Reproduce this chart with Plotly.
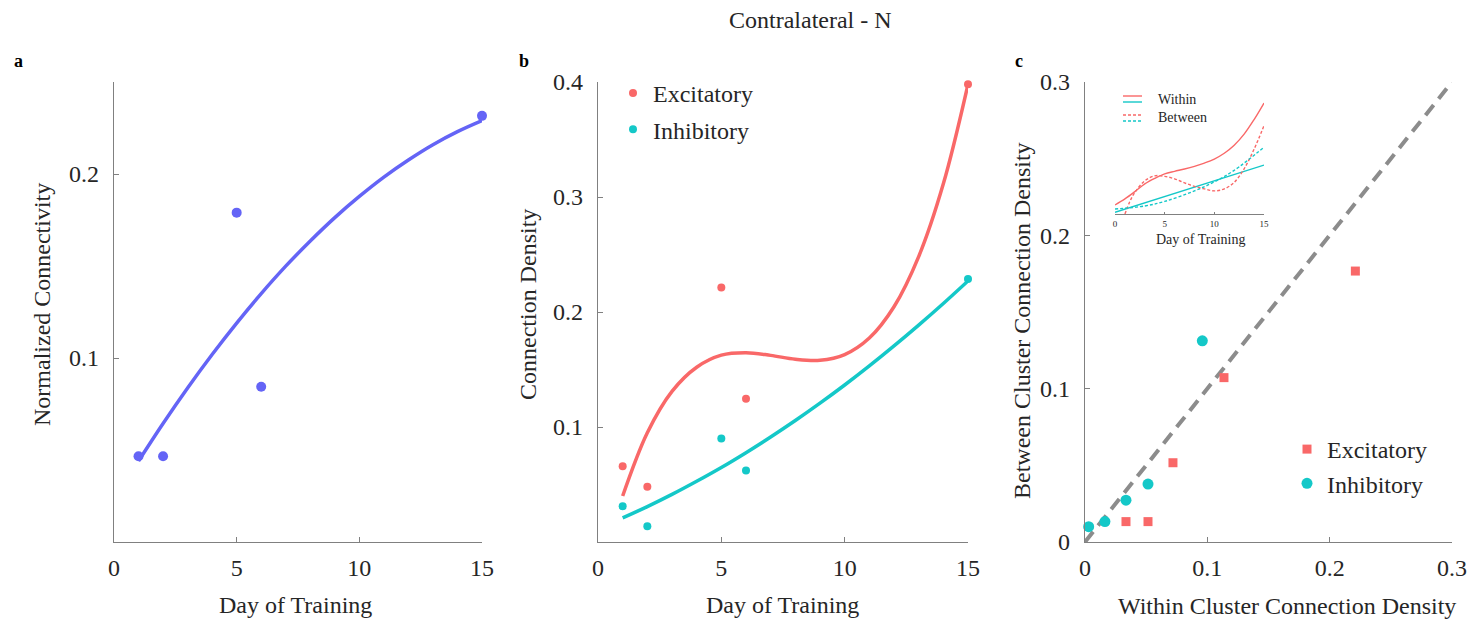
import plotly.graph_objects as go

# ---------------- data ----------------
# a: normalized connectivity by training day, with its fitted trend
days = [1, 2, 5, 6, 15]
norm_conn = [0.0466, 0.0466, 0.179, 0.0844, 0.2316]
fit_days = [1, 2, 3, 4, 5, 6, 7, 8, 9, 10, 11, 12, 13, 14, 15]
norm_conn_fit = [0.044, 0.0644, 0.0837, 0.1019, 0.119, 0.135, 0.1499, 0.1636,
                 0.1763, 0.1878, 0.1983, 0.2076, 0.2159, 0.2230, 0.229]

# b: connection density for excitatory / inhibitory neurons
exc_density = [0.0658, 0.0481, 0.2214, 0.1245, 0.398]
inh_density = [0.031, 0.0137, 0.090, 0.0621, 0.2286]
exc_fit = [0.040, 0.095, 0.131, 0.152, 0.1625, 0.1646, 0.1623, 0.1589,
           0.158, 0.163, 0.1774, 0.2046, 0.2482, 0.3115, 0.398]
inh_fit = [0.021, 0.0308, 0.0414, 0.0528, 0.0648, 0.0777, 0.0913, 0.1056,
           0.1207, 0.1365, 0.1531, 0.1705, 0.1886, 0.2074, 0.227]

# c: within vs between cluster density
exc_within = [0.0335, 0.0515, 0.0719, 0.1136, 0.221]
exc_between = [0.0133, 0.0133, 0.0517, 0.1072, 0.1767]
inh_within = [0.003, 0.0163, 0.0335, 0.0515, 0.0959]
inh_between = [0.010, 0.0133, 0.0273, 0.0378, 0.1312]
identity = [0, 0.3]

# c inset: fitted trends over training days
inset_days = [0, 1, 2, 3, 4, 5, 6, 7, 8, 9, 10, 11, 12, 13, 14, 15]
exc_within_fit = [0.018, 0.030, 0.0445, 0.060, 0.071, 0.080, 0.085, 0.0896,
                  0.095, 0.1015, 0.1095, 0.121, 0.137, 0.159, 0.188, 0.221]
exc_between_days = [1, 1.5, 2, 3, 4, 5, 6, 7, 8, 9, 10, 11, 12, 13, 14, 15]
exc_between_fit = [0.0, 0.025, 0.043, 0.066, 0.076, 0.075, 0.070, 0.062,
                   0.055, 0.050, 0.046, 0.050, 0.063, 0.090, 0.129, 0.176]
inh_within_days = [0, 5, 10, 15]
inh_within_fit = [0.0033, 0.0347, 0.0661, 0.0975]
inh_between_days = [0, 3, 5, 8, 10, 12, 15]
inh_between_fit = [0.010, 0.016, 0.025, 0.046, 0.064, 0.087, 0.133]

# ---------------- style ----------------
W, H = 1469, 621
FONT = "Liberation Serif"
TXT = "#262626"
AX = "#808080"
BLUE = "#6464F6"
RED = "#F96868"
CYAN = "#14C8C8"


def fx(p):
    return p / W


def fy(p):
    return 1 - p / H


fig = go.Figure()

# a
fig.add_trace(go.Scatter(x=fit_days, y=norm_conn_fit, mode="lines", line=dict(color=BLUE, width=3.5, shape="spline"),
                         showlegend=False, xaxis="x", yaxis="y"))
fig.add_trace(go.Scatter(x=days, y=norm_conn, mode="markers", marker=dict(color=BLUE, size=10),
                         showlegend=False, cliponaxis=False, xaxis="x", yaxis="y"))

# b
fig.add_trace(go.Scatter(x=fit_days, y=exc_fit, mode="lines", line=dict(color=RED, width=3.5, shape="spline"),
                         showlegend=False, xaxis="x2", yaxis="y2"))
fig.add_trace(go.Scatter(x=fit_days, y=inh_fit, mode="lines", line=dict(color=CYAN, width=3.5, shape="spline"),
                         showlegend=False, xaxis="x2", yaxis="y2"))
fig.add_trace(go.Scatter(x=days, y=exc_density, mode="markers", name="Excitatory", legend="legend",
                         legendgroup="be", marker=dict(color=RED, size=8), cliponaxis=False,
                         xaxis="x2", yaxis="y2"))
fig.add_trace(go.Scatter(x=days, y=inh_density, mode="markers", name="Inhibitory", legend="legend",
                         legendgroup="bi", marker=dict(color=CYAN, size=8), cliponaxis=False,
                         xaxis="x2", yaxis="y2"))

# c
fig.add_trace(go.Scatter(x=identity, y=identity, mode="lines", line=dict(color="#8c8c8c", width=4, dash="13px,8px"),
                         showlegend=False, xaxis="x3", yaxis="y3"))
fig.add_trace(go.Scatter(x=exc_within, y=exc_between, mode="markers", name="Excitatory", legend="legend2",
                         marker=dict(color=RED, size=9, symbol="square"), cliponaxis=False,
                         xaxis="x3", yaxis="y3"))
fig.add_trace(go.Scatter(x=inh_within, y=inh_between, mode="markers", name="Inhibitory", legend="legend2",
                         marker=dict(color=CYAN, size=11), cliponaxis=False,
                         xaxis="x3", yaxis="y3"))

# c inset
fig.add_trace(go.Scatter(x=inset_days, y=exc_within_fit, mode="lines", line=dict(color=RED, width=1.4, shape="spline"),
                         showlegend=False, xaxis="x4", yaxis="y4"))
fig.add_trace(go.Scatter(x=inh_within_days, y=inh_within_fit, mode="lines", line=dict(color=CYAN, width=1.4),
                         showlegend=False, xaxis="x4", yaxis="y4"))
fig.add_trace(go.Scatter(x=exc_between_days, y=exc_between_fit, mode="lines",
                         line=dict(color=RED, width=1.4, dash="3px,2px", shape="spline"),
                         showlegend=False, xaxis="x4", yaxis="y4"))
fig.add_trace(go.Scatter(x=inh_between_days, y=inh_between_fit, mode="lines",
                         line=dict(color=CYAN, width=1.4, dash="3px,2px", shape="spline"),
                         showlegend=False, xaxis="x4", yaxis="y4"))

axis_common = dict(showline=True, linecolor=AX, linewidth=1.3, ticks="inside", ticklen=5, tickcolor=AX,
                   tickwidth=1, showgrid=False, zeroline=False, automargin=False,
                   tickfont=dict(family=FONT, size=24, color=TXT))
ydom = [fy(542), fy(82)]

fig.update_layout(
    width=W, height=H, margin=dict(l=0, r=0, t=0, b=0, autoexpand=False),
    paper_bgcolor="white", plot_bgcolor="white",
    font=dict(family=FONT, color=TXT),
    xaxis=dict(domain=[fx(114), fx(482)], range=[0, 15], tickvals=[0, 5, 10, 15],
               ticklabelstandoff=4, anchor="y", **axis_common),
    yaxis=dict(domain=ydom, range=[0, 0.25], tickvals=[0.1, 0.2], ticktext=["0.1", "0.2"],
               ticklabelstandoff=9, anchor="x", **axis_common),
    xaxis2=dict(domain=[fx(598), fx(968)], range=[0, 15], tickvals=[0, 5, 10, 15],
                ticklabelstandoff=4, anchor="y2", **axis_common),
    yaxis2=dict(domain=ydom, range=[0, 0.4], tickvals=[0.1, 0.2, 0.3, 0.4],
                ticktext=["0.1", "0.2", "0.3", "0.4"], ticklabelstandoff=9, anchor="x2", **axis_common),
    xaxis3=dict(domain=[fx(1085), fx(1452)], range=[0, 0.3], tickvals=[0, 0.1, 0.2, 0.3],
                ticktext=["0", "0.1", "0.2", "0.3"], ticklabelstandoff=4, anchor="y3", **axis_common),
    yaxis3=dict(domain=ydom, range=[0, 0.3], tickvals=[0, 0.1, 0.2, 0.3],
                ticktext=["0", "0.1", "0.2", "0.3"], ticklabelstandoff=9, anchor="x3", **axis_common),
    xaxis4=dict(domain=[fx(1115), fx(1264)], range=[0, 15], tickvals=[0, 5, 10, 15], anchor="y4",
                showline=True, linecolor=AX, linewidth=1, ticks="inside", ticklen=2, tickcolor=AX,
                showgrid=False, zeroline=False, ticklabelstandoff=1, automargin=False,
                tickfont=dict(family=FONT, size=9, color=TXT)),
    yaxis4=dict(domain=[fy(214), fy(94)], range=[0, 0.239], visible=False, anchor="x4", automargin=False),
    legend=dict(x=fx(613), y=fy(71), xanchor="left", yanchor="top", bgcolor="rgba(0,0,0,0)",
                font=dict(family=FONT, size=24, color=TXT), tracegroupgap=2),
    legend2=dict(x=fx(1287), y=fy(427), xanchor="left", yanchor="top", bgcolor="rgba(0,0,0,0)",
                 font=dict(family=FONT, size=24, color=TXT)),
)

ann = []
# figure title and panel letters
ann.append(dict(text="Contralateral - N", x=fx(810), y=fy(20), font=dict(size=24)))
for letter, xp in (("a", 18), ("b", 524), ("c", 1019)):
    ann.append(dict(text="<b>%s</b>" % letter, x=fx(xp), y=fy(61), font=dict(size=18, color="black")))
# axis titles
for text, xp, yp in (("Day of Training", 295, 605), ("Day of Training", 783, 605),
                     ("Within Cluster Connection Density", 1287, 606)):
    ann.append(dict(text=text, x=fx(xp), y=fy(yp), font=dict(size=24)))
for text, xp, yp in (("Normalized Connectivity", 42, 305), ("Connection Density", 528, 305),
                     ("Between Cluster Connection Density", 1022, 321)):
    ann.append(dict(text=text, x=fx(xp), y=fy(yp), textangle=-90, font=dict(size=24)))
# inset labels
ann.append(dict(text="Day of Training", x=fx(1200), y=fy(240), font=dict(size=14)))
ann.append(dict(text="Within", x=fx(1156), y=fy(99), xanchor="left", font=dict(size=14)))
ann.append(dict(text="Between", x=fx(1156), y=fy(118), xanchor="left", font=dict(size=14)))
for a in ann:
    a.setdefault("xanchor", "center")
    a.update(xref="paper", yref="paper", yanchor="middle", showarrow=False)
    a["font"] = dict(family=FONT, color=a["font"].get("color", TXT), size=a["font"]["size"])
fig.update_layout(annotations=ann)

# inset legend keys
shapes = []
for yp, color, dash in ((96, RED, "solid"), (102, CYAN, "solid"), (115, RED, "3px,2px"), (121, CYAN, "3px,2px")):
    shapes.append(dict(type="line", xref="paper", yref="paper", x0=fx(1123), x1=fx(1142), y0=fy(yp), y1=fy(yp),
                       line=dict(color=color, width=1.4, dash=dash)))
fig.update_layout(shapes=shapes)

fig.write_html("out.html")
